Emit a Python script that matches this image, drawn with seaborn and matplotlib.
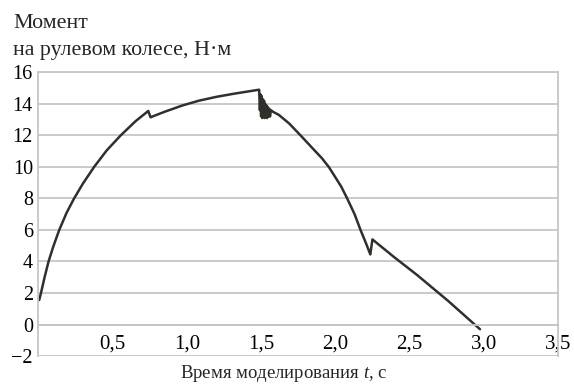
import matplotlib

matplotlib.use("Agg")
import matplotlib.pyplot as plt
import pandas as pd
import seaborn as sns

# time, s
time_s = [
    0.005, 0.017, 0.04, 0.068, 0.10, 0.14, 0.19, 0.24, 0.30, 0.375, 0.46,
    0.554, 0.654, 0.70, 0.74, 0.755, 0.85, 0.97, 1.08, 1.20, 1.32, 1.42, 1.487,
    1.492, 1.496, 1.500, 1.504, 1.508, 1.512, 1.516, 1.520, 1.524, 1.528, 1.532,
    1.536, 1.540, 1.545, 1.550, 1.555, 1.560, 1.566, 1.58, 1.60, 1.62, 1.69,
    1.766, 1.86, 1.91, 1.956, 2.0, 2.04, 2.08, 2.13, 2.17, 2.205, 2.236, 2.25,
    2.40, 2.55, 2.76, 2.975,
]
# steering wheel torque, N*m
torque = [
    1.55, 2.0, 2.95, 4.0, 4.95, 6.0, 7.1, 8.0, 8.95, 10.0, 11.05,
    12.0, 12.9, 13.25, 13.55, 13.15, 13.5, 13.9, 14.2, 14.45, 14.65, 14.8, 14.9,
    13.6, 14.6, 13.2, 14.5, 13.1, 14.3, 13.2, 14.2, 13.1, 14.0, 13.2,
    13.9, 13.1, 13.8, 13.2, 13.7, 13.2, 13.6, 13.5, 13.4, 13.3, 12.75,
    12.0, 11.05, 10.55, 10.0, 9.35, 8.75, 8.0, 7.0, 6.0, 5.2, 4.45, 5.4,
    4.25, 3.15, 1.5, -0.3,
]

x_ticks = [0.5, 1.0, 1.5, 2.0, 2.5, 3.0, 3.5]
x_tick_labels = ["0,5", "1,0", "1,5", "2,0", "2,5", "3,0", "3,5"]
y_ticks = [-2, 0, 2, 4, 6, 8, 10, 12, 14, 16]
y_tick_labels = ["\u22122", "0", "2", "4", "6", "8", "10", "12", "14", "16"]

df = pd.DataFrame({"t": time_s, "M": torque})

sns.set_style("white")
plt.rcParams["font.family"] = ["Liberation Serif", "DejaVu Serif"]
plt.rcParams["mathtext.fontset"] = "custom"
plt.rcParams["mathtext.rm"] = "Liberation Serif"
plt.rcParams["mathtext.it"] = "Liberation Serif:italic"

fig = plt.figure(figsize=(5.74, 3.87), dpi=100)
ax = fig.add_axes([0.067, 0.080, 0.905, 0.733])

sns.lineplot(data=df, x="t", y="M", ax=ax, sort=False, estimator=None,
             color="#2e3129", linewidth=1.8)

grid_color = "#c6c6c6"
ax.set_xlim(0, 3.5)
ax.set_ylim(-2, 16)
ax.set_yticks(y_ticks)
ax.set_yticklabels(y_tick_labels)
ax.set_xticks(x_ticks)
ax.set_xticklabels(x_tick_labels)
ax.yaxis.grid(True, color=grid_color, linewidth=1.3)
ax.xaxis.grid(False)

for side in ["left", "right", "top", "bottom"]:
    ax.spines[side].set_visible(True)
    ax.spines[side].set_color(grid_color)
    ax.spines[side].set_linewidth(1.3)
ax.spines["bottom"].set_position(("data", 0))

ax.tick_params(axis="y", length=0, pad=4, labelsize=14.5, colors="black")
ax.tick_params(axis="x", direction="out", length=4, width=1, color=grid_color,
               pad=3, labelsize=15, labelcolor="black")
ax.set_xlabel("")
ax.set_ylabel("")

fig.text(13 / 574, 1 - 27.5 / 387, "Момент", fontsize=15.8, va="baseline", ha="left")
fig.text(13 / 574, 1 - 55 / 387, "на рулевом колесе, Н·м", fontsize=15.8,
         va="baseline", ha="left")
fig.text(284 / 574, 1 - 378 / 387, r"Время моделирования $\mathit{t}$, с",
         fontsize=13.5, va="baseline", ha="center")

fig.savefig("out.png", dpi=100)
